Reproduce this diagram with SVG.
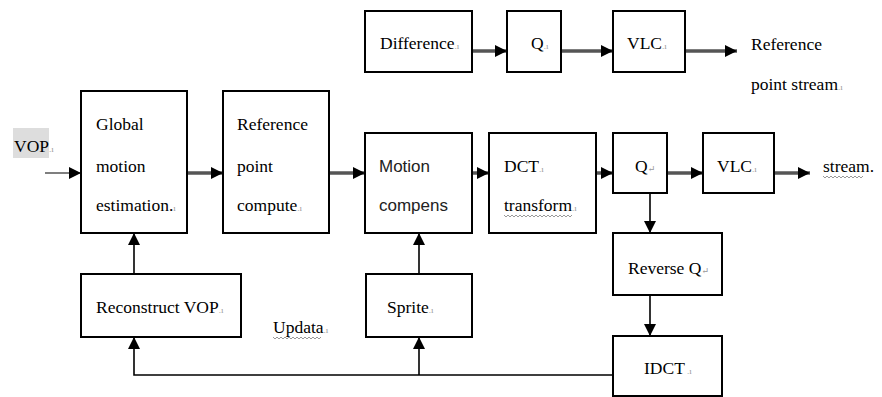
<svg xmlns="http://www.w3.org/2000/svg" width="882" height="397" viewBox="0 0 882 397">
<style>
.box{fill:#fff;stroke:#000;stroke-width:2}
.t{font-family:'Liberation Serif','DejaVu Serif',serif;font-size:17.5px;fill:#000}
.s{font-family:'Liberation Sans',Arial,sans-serif;font-size:17px;fill:#222}
.pm{font-size:9px;fill:#999}
.thick{stroke:#555;stroke-width:3.5;fill:none}
.thin{stroke:#000;stroke-width:1.6;fill:none}
.sq{stroke:#999;stroke-width:1;fill:none}
</style>
<defs>
<marker id="ah" markerUnits="userSpaceOnUse" markerWidth="12" markerHeight="12" viewBox="0 0 12 12" refX="12" refY="6" orient="auto">
<path d="M0,0 L12,6 L0,12 Z" fill="#000"/>
</marker>
</defs>
<g id="connectors">
<line class="thin" x1="45" y1="173" x2="81" y2="173" marker-end="url(#ah)" style="stroke:#555"/>
<line class="thick" x1="187" y1="173" x2="223" y2="173" marker-end="url(#ah)"/>
<line class="thick" x1="329" y1="173" x2="365" y2="173" marker-end="url(#ah)"/>
<line class="thick" x1="472" y1="173" x2="489" y2="173" marker-end="url(#ah)"/>
<line class="thick" x1="596" y1="173" x2="613" y2="173" marker-end="url(#ah)"/>
<line class="thick" x1="667" y1="173" x2="703" y2="173" marker-end="url(#ah)"/>
<line class="thick" x1="774" y1="173" x2="810" y2="173" marker-end="url(#ah)"/>
<line class="thick" x1="472" y1="51" x2="507" y2="51" marker-end="url(#ah)"/>
<line class="thick" x1="561" y1="51" x2="613" y2="51" marker-end="url(#ah)"/>
<line class="thick" x1="685" y1="51" x2="737" y2="51" marker-end="url(#ah)"/>
<line class="thin" x1="650" y1="193" x2="650" y2="233" marker-end="url(#ah)"/>
<line class="thin" x1="650" y1="295" x2="650" y2="336" marker-end="url(#ah)"/>
<polyline class="thin" points="613,375 134,375 134,337" marker-end="url(#ah)"/>
<line class="thin" x1="419" y1="375" x2="419" y2="337" marker-end="url(#ah)"/>
<line class="thin" x1="134" y1="274" x2="134" y2="233" marker-end="url(#ah)"/>
<line class="thin" x1="419" y1="274" x2="419" y2="233" marker-end="url(#ah)"/>
</g>
<g id="vop-label">
<rect x="13" y="128" width="36" height="30" fill="#ddd"/>
<text class="t" x="14" y="152">VOP<tspan class="pm">.ı</tspan></text>
</g>
<g id="global-motion">
<rect class="box" x="81" y="91" width="106" height="142"/>
<text class="t" x="96" y="130">Global</text>
<text class="t" x="96" y="172">motion</text>
<text class="t" x="96" y="211">estimation.<tspan class="pm">ı</tspan></text>
</g>
<g id="reference-point">
<rect class="box" x="223" y="91" width="106" height="142"/>
<text class="t" x="237" y="130">Reference</text>
<text class="t" x="237" y="172">point</text>
<text class="t" x="237" y="211">compute<tspan class="pm">.ı</tspan></text>
</g>
<g id="difference">
<rect class="box" x="365" y="11" width="107" height="61"/>
<text class="t" x="380" y="49">Difference<tspan class="pm">.ı</tspan></text>
</g>
<g id="q-top">
<rect class="box" x="507" y="11" width="54" height="61"/>
<text class="t" x="531" y="49">Q<tspan class="pm">.ı</tspan></text>
</g>
<g id="vlc-top">
<rect class="box" x="613" y="11" width="72" height="61"/>
<text class="t" x="627" y="49">VLC<tspan class="pm">.ı</tspan></text>
</g>
<g id="ref-stream-label">
<text class="t" x="751" y="50">Reference</text>
<text class="t" x="751" y="90">point stream<tspan class="pm">.ı</tspan></text>
</g>
<g id="motion-compens">
<rect class="box" x="365" y="133" width="107" height="100"/>
<text class="s" x="379" y="172">Motion</text>
<text class="s" x="379" y="211">compens</text>
</g>
<g id="dct">
<rect class="box" x="489" y="133" width="107" height="100"/>
<text class="t" x="504" y="172">DCT<tspan class="pm">.ı</tspan></text>
<text class="t" x="504" y="211">transform<tspan class="pm">.ı</tspan></text>
<path class="sq" d="M504,215 l2,2 l2,-2 l2,2 l2,-2 l2,2 l2,-2 l2,2 l2,-2 l2,2 l2,-2 l2,2 l2,-2 l2,2 l2,-2 l2,2 l2,-2 l2,2 l2,-2 l2,2 l2,-2 l2,2 l2,-2 l2,2 l2,-2 l2,2 l2,-2 l2,2 l2,-2 l2,2 l2,-2 l2,2 l2,-2 l2,2 l2,-2"/>
</g>
<g id="q-bottom">
<rect class="box" x="613" y="133" width="54" height="60"/>
<text class="t" x="635" y="172">Q<tspan class="pm" font-size="12">↵</tspan></text>
</g>
<g id="vlc-bottom">
<rect class="box" x="703" y="133" width="71" height="60"/>
<text class="t" x="717" y="172">VLC<tspan class="pm">.ı</tspan></text>
</g>
<g id="stream-label">
<text class="t" x="823" y="172">stream.</text>
<path class="sq" d="M823,176 l2,2 l2,-2 l2,2 l2,-2 l2,2 l2,-2 l2,2 l2,-2 l2,2 l2,-2 l2,2 l2,-2 l2,2 l2,-2 l2,2 l2,-2 l2,2 l2,-2 l2,2 l2,-2"/>
</g>
<g id="reverse-q">
<rect class="box" x="613" y="233" width="109" height="62"/>
<text class="t" x="628" y="274">Reverse Q<tspan class="pm" font-size="12">↵</tspan></text>
</g>
<g id="idct">
<rect class="box" x="613" y="336" width="109" height="60"/>
<text class="t" x="644" y="374">IDCT<tspan class="pm"> .ı</tspan></text>
</g>
<g id="reconstruct-vop">
<rect class="box" x="81" y="274" width="160" height="63"/>
<text class="t" x="96" y="313">Reconstruct VOP<tspan class="pm">.ı</tspan></text>
</g>
<g id="sprite">
<rect class="box" x="366" y="274" width="106" height="63"/>
<text class="t" x="387" y="313">Sprite<tspan class="pm">.ı</tspan></text>
</g>
<g id="updata-label">
<text class="t" x="273" y="333">Updata<tspan class="pm">.ı</tspan></text>
<path class="sq" d="M273,337 l2,2 l2,-2 l2,2 l2,-2 l2,2 l2,-2 l2,2 l2,-2 l2,2 l2,-2 l2,2 l2,-2 l2,2 l2,-2 l2,2 l2,-2 l2,2 l2,-2 l2,2 l2,-2 l2,2 l2,-2 l2,2 l2,-2"/>
</g>
</svg>
